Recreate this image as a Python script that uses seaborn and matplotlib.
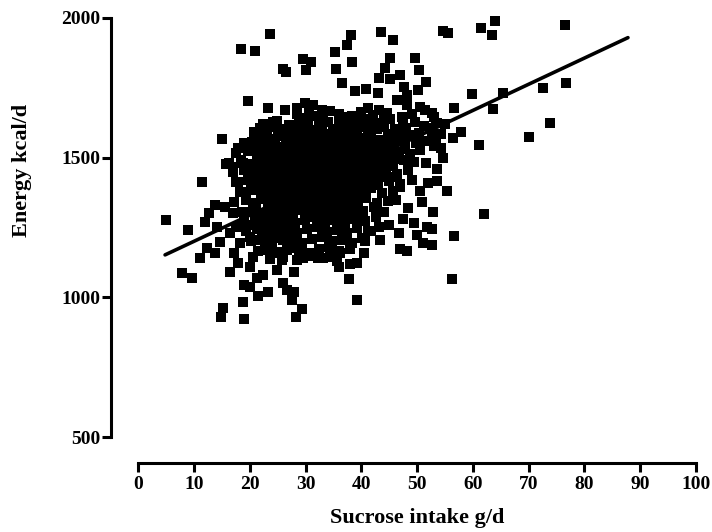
import numpy as np
import pandas as pd
import matplotlib
matplotlib.use("Agg")
import matplotlib.pyplot as plt
import seaborn as sns

# ---------------- data ----------------
# isolated / readable points (sucrose g/d, energy kcal/d)
sparse_x = [23.7, 18.4, 20.9, 25.9, 26.5, 19.6, 23.3, 26.3,
            38.2, 43.5, 45.7, 37.5, 35.3, 29.6, 30.9, 30.0, 38.4, 35.5,
            45.1, 49.6, 50.3, 44.3, 43.1, 45.1, 46.9, 36.6, 38.9, 40.9,
            42.9, 47.6, 48.1, 50.2, 51.6, 46.3, 50.5, 48.1, 41.2, 43.1,
            29.9, 31.4, 28.4, 32.9, 51.4,
            54.6, 55.6, 61.4, 64.0, 63.5, 76.5, 59.8, 65.4, 72.5, 76.7,
            56.6, 63.6, 52.6,
            73.8, 70.1, 61.1, 57.9, 56.4, 54.7, 53.5, 55.3, 52.9, 62.0,
            53.0, 53.6, 52.4, 54.2, 53.4, 53.1,
            56.6, 56.2, 52.6, 52.6,
            46.8, 49.9, 51.1, 51.7, 46.9, 48.2, 43.3, 41.7, 40.6, 40.4,
            39.2, 38.0, 35.9, 37.8, 39.2, 27.9, 27.9, 29.3, 28.3, 27.5,
            32.3, 29.6, 36.2, 34.4,
            9.0, 5.0, 7.8, 9.6, 11.1, 12.4, 13.8, 14.7, 15.2, 14.8, 18.8,
            19.0, 19.0, 20.0, 21.5, 23.2, 16.4, 17.8, 17.1, 20.0, 20.6,
            22.4, 21.2, 26.6, 26.0, 24.8, 25.7, 24.2, 22.7, 21.8, 20.0,
            18.2, 16.5, 17.6, 14.1, 20.0, 23.0, 24.8, 26.0, 26.6, 12.0,
            24.2, 15.0, 11.4, 20.3, 22.7, 17.9, 15.7, 18.7, 16.9, 24.5,
            21.8, 26.0, 26.6, 13.8, 15.6, 12.6, 17.0, 18.8, 17.9, 18.5,
            20.0, 21.2, 23.6, 25.7,
            45.5, 47.0, 49.0, 50.5, 46.2, 48.4, 50.9, 47.5, 45.0, 49.5,
            52.0, 53.5, 51.5, 54.2, 52.8, 55.0, 53.0]
sparse_y = [1943, 1888, 1883, 1816, 1808, 1704, 1679, 1671,
            1939, 1951, 1921, 1903, 1877, 1852, 1844, 1814, 1842, 1818,
            1856, 1856, 1814, 1820, 1784, 1781, 1796, 1769, 1740, 1745,
            1733, 1754, 1724, 1742, 1772, 1707, 1683, 1689, 1677, 1671,
            1695, 1689, 1677, 1671, 1671,
            1955, 1945, 1963, 1989, 1939, 1975, 1728, 1731, 1748, 1769,
            1677, 1674, 1660,
            1623, 1573, 1545, 1591, 1572, 1500, 1418, 1381, 1305, 1297,
            1646, 1625, 1605, 1585, 1560, 1540,
            1220, 1066, 1244, 1187,
            1231, 1223, 1193, 1253, 1172, 1167, 1205, 1239, 1203, 1158,
            1122, 1118, 1110, 1066, 990, 1092, 1020, 957, 931, 990,
            1140, 1140, 1158, 1145,
            1241, 1278, 1086, 1068, 1140, 1176, 1158, 1199, 961, 931, 984,
            921, 1044, 1038, 1005, 1020, 1092, 1122, 1158, 1110, 1145,
            1080, 1068, 1026, 1051, 1098, 1134, 1158, 1170, 1205, 1217,
            1193, 1229, 1253, 1253, 1259, 1253, 1229, 1205, 1170, 1271,
            1629, 1567, 1412, 1557, 1569, 1534, 1476, 1480, 1468, 1560,
            1539, 1593, 1534, 1331, 1325, 1301, 1301, 1307, 1414, 1378,
            1426, 1468, 1486, 1498,
            1430, 1395, 1420, 1380, 1350, 1320, 1340, 1280, 1260, 1265,
            1410, 1460, 1480, 1535, 1575, 1620, 1645]

# dense core of the cloud (estimated, the marks overlap there)
core_x = [28.5, 30.6, 32.1, 34.4, 36.0, 38.3, 39.9, 42.0, 44.6, 47.2, 49.0,
          22.4, 24.9, 27.0, 28.8, 30.5, 32.4, 34.1, 35.9, 37.6, 39.4, 41.2, 43.0, 45.1, 47.4, 49.6, 51.2, 53.4,
          20.8, 23.1, 25.0, 26.9, 28.6, 30.3, 32.2, 33.8, 35.7, 37.5, 39.2, 41.1, 42.8, 44.7, 46.5, 48.6, 50.4, 52.6,
          18.9, 21.0, 22.8, 24.6, 26.5, 28.1, 29.9, 31.7, 33.4, 35.2, 37.0, 38.8, 40.6, 42.3, 44.2, 46.0, 47.9, 49.8, 51.5,
          17.5, 19.6, 21.5, 23.3, 25.1, 26.9, 28.7, 30.5, 32.3, 34.0, 35.8, 37.7, 39.5, 41.3, 43.1, 44.9, 46.8, 48.7, 50.6,
          16.2, 18.4, 20.3, 22.1, 24.0, 25.8, 27.6, 29.4, 31.2, 33.0, 34.8, 36.6, 38.4, 40.2, 42.0, 43.8, 45.7, 47.6, 49.5,
          17.0, 19.0, 20.9, 22.7, 24.5, 26.3, 28.1, 29.9, 31.7, 33.5, 35.3, 37.1, 38.9, 40.7, 42.5, 44.4, 46.3, 48.3,
          17.6, 19.6, 21.4, 23.2, 25.0, 26.8, 28.6, 30.4, 32.2, 34.0, 35.8, 37.6, 39.4, 41.2, 43.0, 44.9, 46.9,
          18.3, 20.2, 22.0, 23.8, 25.6, 27.4, 29.2, 31.0, 32.8, 34.6, 36.4, 38.2, 40.0, 41.8, 43.7, 45.7,
          17.2, 19.3, 21.1, 22.9, 24.7, 26.5, 28.3, 30.1, 31.9, 33.7, 35.5, 37.3, 39.1, 40.9, 42.8, 44.8,
          18.6, 20.5, 22.3, 24.1, 25.9, 27.7, 29.5, 31.3, 33.1, 34.9, 36.7, 38.5, 40.3, 42.2, 44.1,
          19.0, 20.9, 22.7, 24.5, 26.3, 28.1, 29.9, 31.7, 33.5, 35.3, 37.1, 38.9, 40.7, 42.6,
          19.4, 21.3, 23.1, 24.9, 26.7, 28.5, 30.3, 32.1, 33.9, 35.7, 37.5, 39.3, 41.2, 43.2,
          20.2, 22.1, 23.9, 25.7, 27.5, 29.3, 31.1, 32.9, 34.7, 36.5, 38.3, 40.2,
          21.5, 23.4, 25.2, 27.0, 28.8, 30.6, 32.4, 34.2, 36.0, 37.9,
          23.6, 26.0, 28.4, 30.8, 33.2, 35.6]
core_y = [1655, 1662, 1650, 1668, 1656, 1648, 1664, 1652, 1660, 1646, 1658,
          1622, 1630, 1618, 1634, 1626, 1615, 1628, 1637, 1620, 1631, 1617, 1625, 1638, 1621, 1629, 1612, 1624,
          1592, 1585, 1598, 1580, 1594, 1587, 1600, 1583, 1591, 1597, 1578, 1589, 1602, 1584, 1595, 1581, 1590, 1596,
          1552, 1560, 1548, 1563, 1555, 1545, 1558, 1566, 1550, 1561, 1547, 1557, 1564, 1549, 1556, 1562, 1546, 1554, 1559,
          1518, 1525, 1512, 1528, 1520, 1510, 1524, 1531, 1515, 1522, 1509, 1527, 1516, 1523, 1511, 1529, 1519, 1513, 1526,
          1482, 1490, 1478, 1494, 1486, 1475, 1489, 1496, 1480, 1487, 1474, 1492, 1483, 1497, 1479, 1488, 1476, 1491, 1484,
          1447, 1455, 1442, 1458, 1450, 1440, 1453, 1461, 1445, 1452, 1439, 1457, 1448, 1462, 1444, 1451, 1441, 1456,
          1412, 1420, 1407, 1423, 1415, 1405, 1418, 1426, 1410, 1417, 1404, 1422, 1413, 1427, 1409, 1416, 1406,
          1377, 1385, 1372, 1388, 1380, 1370, 1383, 1391, 1375, 1382, 1369, 1387, 1378, 1392, 1374, 1381,
          1342, 1350, 1337, 1353, 1345, 1335, 1348, 1356, 1340, 1347, 1334, 1352, 1343, 1357, 1339, 1346,
          1307, 1315, 1302, 1318, 1310, 1300, 1313, 1321, 1305, 1312, 1299, 1317, 1308, 1322, 1304,
          1272, 1280, 1267, 1283, 1275, 1265, 1278, 1286, 1270, 1277, 1264, 1282, 1273, 1287,
          1237, 1245, 1232, 1248, 1240, 1230, 1243, 1251, 1235, 1242, 1229, 1247, 1238, 1252,
          1202, 1210, 1197, 1213, 1205, 1195, 1208, 1216, 1200, 1207, 1194, 1212,
          1167, 1175, 1162, 1178, 1170, 1160, 1173, 1181, 1165, 1172,
          1138, 1145, 1133, 1148, 1140, 1130]

# second layer of overlapping marks inside the solid core (estimated)
inner_x = [29.5, 33.2, 37.0, 40.8, 44.0,
           21.9, 23.9, 25.9, 27.9, 29.5, 31.3, 33.0, 34.9, 36.7, 38.4, 40.2, 42.0, 44.0, 46.0, 48.0,
           21.9, 23.7, 25.6, 27.4, 29.1, 30.9, 32.7, 34.5, 36.3, 38.1, 39.9, 41.7, 43.4, 45.1, 47.0, 48.9,
           20.5, 22.3, 24.1, 25.9, 27.7, 29.5, 31.3, 33.1, 34.9, 36.7, 38.5, 40.3, 42.1, 43.9, 45.8, 47.8,
           21.2, 23.0, 24.8, 26.6, 28.4, 30.2, 32.0, 33.8, 35.6, 37.4, 39.2, 41.0, 42.8, 44.7, 46.6,
           20.0, 21.8, 23.6, 25.4, 27.2, 29.0, 30.8, 32.6, 34.4, 36.2, 38.0, 39.8, 41.6, 43.4, 45.3,
           20.4, 22.2, 24.0, 25.8, 27.6, 29.4, 31.2, 33.0, 34.8, 36.6, 38.4, 40.2, 42.0, 43.9,
           21.1, 22.9, 24.7, 26.5, 28.3, 30.1, 31.9, 33.7, 35.5, 37.3, 39.1, 40.9, 42.8,
           22.0, 23.8, 25.6, 27.4, 29.2, 31.0, 32.8, 34.6, 36.4, 38.2, 40.0,
           23.2, 25.0, 26.8, 28.6, 30.4, 32.2, 34.0, 35.8, 37.6, 39.4,
           23.6, 27.2, 30.8, 34.4, 38.0]
inner_y = [1642, 1637, 1645, 1640, 1636,
           1606, 1610, 1603, 1611, 1605, 1600, 1609, 1604, 1612, 1601, 1608, 1605, 1611, 1602, 1607,
           1575, 1568, 1577, 1573, 1566, 1574, 1579, 1569, 1576, 1567, 1572, 1578, 1565, 1574, 1570, 1576,
           1540, 1532, 1542, 1537, 1530, 1539, 1544, 1533, 1538, 1531, 1541, 1536, 1543, 1534, 1539, 1532,
           1497, 1507, 1502, 1495, 1504, 1509, 1498, 1503, 1496, 1506, 1501, 1508, 1499, 1504, 1497,
           1470, 1462, 1472, 1467, 1460, 1469, 1474, 1463, 1468, 1461, 1471, 1466, 1473, 1464, 1469,
           1435, 1427, 1437, 1432, 1425, 1434, 1439, 1428, 1433, 1426, 1436, 1431, 1438, 1429,
           1400, 1392, 1402, 1397, 1390, 1399, 1404, 1393, 1398, 1391, 1401, 1396, 1403,
           1357, 1367, 1362, 1355, 1364, 1369, 1358, 1363, 1356, 1366, 1361,
           1322, 1332, 1327, 1320, 1329, 1334, 1323, 1328, 1321, 1331,
           1290, 1292, 1294, 1288, 1286]

# linear fit drawn in the chart
fit_slope = 9.37
fit_intercept = 1107.0
fit_x_range = [4.8, 87.8]

x_ticks = [0, 10, 20, 30, 40, 50, 60, 70, 80, 90, 100]
y_ticks = [500, 1000, 1500, 2000]
x_label = "Sucrose intake g/d"
y_label = "Energy kcal/d"

# ---------------- figure ----------------
sns.set_theme(style="ticks")
plt.rcParams['font.family'] = ['Liberation Serif', 'DejaVu Serif']
plt.rcParams['font.weight'] = 'bold'
for key in ["text.color", "axes.labelcolor", "xtick.color", "ytick.color",
            "axes.edgecolor"]:
    plt.rcParams[key] = "black"

df = pd.DataFrame({"sucrose": sparse_x + core_x + inner_x,
                   "energy": sparse_y + core_y + inner_y})
fit_df = pd.DataFrame({"sucrose": fit_x_range,
                       "energy": [fit_intercept + fit_slope * v for v in fit_x_range]})

W, H = 712, 532
fig = plt.figure(figsize=(W / 100, H / 100), dpi=100)
x0, x1 = 138.3, 696.0
y0, y1 = 437.0, 18.0
ax = fig.add_axes([x0 / W, 1 - y0 / H, (x1 - x0) / W, (y0 - y1) / H])

sns.scatterplot(data=df, x="sucrose", y="energy", marker="s", s=56,
                color="black", linewidth=0, ax=ax, clip_on=False, zorder=3)
sns.lineplot(data=fit_df, x="sucrose", y="energy", color="black",
             linewidth=2.6, ax=ax, zorder=4)

ax.set_xlim(0, 100)
ax.set_ylim(500, 2000)
ax.set_xticks(x_ticks)
ax.set_yticks(y_ticks)
ax.set_xlabel("")
ax.set_ylabel("")

for side in ["top", "right"]:
    ax.spines[side].set_visible(False)
ax.spines["left"].set_position(("outward", 19.4))
ax.spines["bottom"].set_position(("outward", 18.7))
ax.spines["left"].set_bounds(500, 2000)
ax.spines["bottom"].set_bounds(0, 100)
for side in ["left", "bottom"]:
    ax.spines[side].set_linewidth(2.2)
    ax.spines[side].set_color("black")

ax.tick_params(axis="both", direction="out", length=6.5, width=2.2,
               color="black", labelcolor="black", labelsize=14)
ax.tick_params(axis="x", pad=3)
ax.tick_params(axis="y", pad=1.5)
for lab in ax.get_xticklabels() + ax.get_yticklabels():
    lab.set_fontweight("bold")

fig.text(417 / W, 1 - 518 / H, x_label, ha="center", va="center",
         fontsize=16, fontweight="bold", color="black")
fig.text(22 / W, 1 - 170 / H, y_label, ha="center", va="center",
         rotation=90, fontsize=16, fontweight="bold", color="black")

fig.savefig("out.png", dpi=100)
